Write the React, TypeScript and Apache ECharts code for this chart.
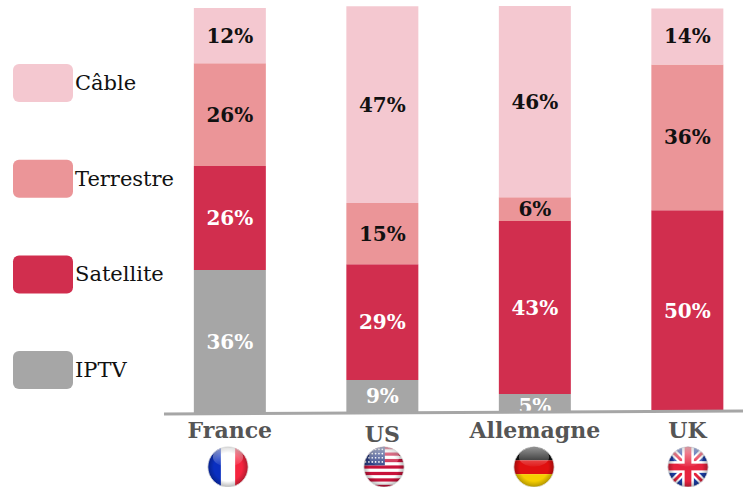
import React, { useEffect, useRef } from "react";
import * as echarts from "echarts";

const categories = ["France", "US", "Allemagne", "UK"];
const seriesNames = ["Câble", "Terrestre", "Satellite", "IPTV"];
// Segment heights as drawn in the picture (they differ slightly from the printed labels)
const baseOffset = [0, 0.25, 0.5, 0.5];
const iptv = [35.3, 7.9, 4.2, 0];
const satellite = [25.7, 28.6, 42.7, 49.6];
const terrestre = [25.4, 15.1, 5.9, 36];
const cable = [13.6, 48.6, 47.2, 13.8];
// Printed labels
const iptvLabels = [36, 9, 5, null];
const satelliteLabels = [26, 29, 43, 50];
const terrestreLabels = [26, 15, 6, 36];
const cableLabels = [12, 47, 46, 14];

const COLORS = { cable: "#F4C8D0", terrestre: "#EB9598", satellite: "#D12E4E", iptv: "#A6A6A6" };
const FONT = "'DejaVu Serif', serif";

const gloss = `<defs><clipPath id="c"><circle cx="50" cy="50" r="48"/></clipPath>
<radialGradient id="s" cx="50%" cy="50%" r="50%"><stop offset="70%" stop-color="#000" stop-opacity="0"/><stop offset="100%" stop-color="#000" stop-opacity=".28"/></radialGradient>
<linearGradient id="g" x1="0" y1="0" x2="0" y2="1"><stop offset="0" stop-color="#fff" stop-opacity=".55"/><stop offset="1" stop-color="#fff" stop-opacity=".05"/></linearGradient></defs>`;
const wrap = (inner: string) =>
  "data:image/svg+xml;charset=utf-8," +
  encodeURIComponent(
    `<svg xmlns="http://www.w3.org/2000/svg" viewBox="0 0 100 100" width="100" height="100">${gloss}<g clip-path="url(#c)">${inner}<circle cx="50" cy="50" r="48" fill="url(#s)"/><ellipse cx="50" cy="26" rx="36" ry="23" fill="url(#g)"/></g><circle cx="50" cy="50" r="48" fill="none" stroke="#ddd" stroke-width="2"/></svg>`
  );
const usStripes = Array.from({ length: 7 }, (_, i) => `<rect x="0" y="${i * 15.4}" width="100" height="7.7" fill="#C8123A"/>`).join("");
const usStars = Array.from({ length: 24 }, (_, i) => `<circle cx="${6 + (i % 6) * 8}" cy="${8 + Math.floor(i / 6) * 10}" r="2" fill="#fff"/>`).join("");
const flags = [
  { x: 228, img: wrap(`<rect width="100" height="100" fill="#fff"/><rect width="33" height="100" fill="#0A2FC0"/><rect x="67" width="33" height="100" fill="#F5243F"/>`) },
  { x: 384, img: wrap(`<rect width="100" height="100" fill="#fff"/>${usStripes}<rect width="52" height="46" fill="#2C3F85"/>${usStars}`) },
  { x: 534, img: wrap(`<rect width="100" height="34" fill="#111"/><rect y="34" width="100" height="33" fill="#E01010"/><rect y="67" width="100" height="33" fill="#F6CE00"/>`) },
  { x: 688, img: wrap(`<rect width="100" height="100" fill="#1B3FA8"/><path d="M0 12L12 0L100 88L88 100ZM88 0L100 12L12 100L0 88Z" fill="#fff"/><path d="M0 5L5 0L100 95L95 100ZM95 0L100 5L5 100L0 95Z" fill="#E6233F"/><rect x="36" width="28" height="100" fill="#fff"/><rect y="36" width="100" height="28" fill="#fff"/><rect x="42" width="16" height="100" fill="#E6233F"/><rect y="42" width="100" height="16" fill="#E6233F"/>`) },
];

const seriesOf = (name: string, data: number[], labels: (number | null)[], color: string, textColor: string) => ({
  name,
  type: "bar",
  stack: "s",
  barWidth: 72,
  data,
  itemStyle: { color },
  label: {
    show: true,
    position: "inside",
    offset: [0, 1],
    color: textColor,
    fontFamily: FONT,
    fontWeight: "bold",
    fontSize: 20,
    formatter: (p: any) => (labels[p.dataIndex] == null ? "" : `${labels[p.dataIndex]}%`),
  },
  labelLayout: (p: any) => (p.rect.height < 20 && name === "IPTV" ? { dy: 4 } : {}),
});

export default function App() {
  const ref = useRef<HTMLDivElement>(null);
  useEffect(() => {
    const chart = echarts.init(ref.current!, null, { renderer: "svg" });
    const axisFont = { fontFamily: FONT, fontWeight: "bold", fontSize: 22, color: "#555" };
    const legendText = { fontFamily: FONT, fontSize: 21, color: "#111" };
    chart.setOption({
      animation: false,
      backgroundColor: "#fff",
      grid: { left: 153.6, top: 0, width: 610, height: 413, outerBoundsMode: "none" },
      legend: {
        orient: "vertical",
        left: 13,
        top: 64,
        padding: 0,
        itemWidth: 60,
        itemHeight: 38,
        itemGap: 57.7,
        icon: "path://M6 0H54A6 6 0 0 1 60 6V32A6 6 0 0 1 54 38H6A6 6 0 0 1 0 32V6A6 6 0 0 1 6 0Z",
        data: seriesNames.map((name) => ({
          name,
          textStyle: { ...legendText, padding: [0, 0, name === "Câble" ? 14 : 8, -3] },
        })),
        textStyle: { ...legendText, padding: [0, 0, 8, -3] },
      },
      xAxis: {
        type: "category",
        data: categories,
        axisLine: { show: false },
        axisTick: { show: false },
        axisLabel: {
          margin: 6,
          interval: 0,
          ...axisFont,
          formatter: (v: string) => (v === "US" ? `{low|${v}}` : v),
          rich: { low: { ...axisFont, padding: [4, 0, 0, 0] } },
        },
      },
      yAxis: { type: "value", min: 0, max: 102, show: false, splitLine: { show: false } },
      series: [
        { name: "base", type: "bar", stack: "s", barWidth: 72, data: baseOffset, itemStyle: { color: "transparent" }, silent: true },
        seriesOf("IPTV", iptv, iptvLabels, COLORS.iptv, "#fff"),
        seriesOf("Satellite", satellite, satelliteLabels, COLORS.satellite, "#fff"),
        seriesOf("Terrestre", terrestre, terrestreLabels, COLORS.terrestre, "#111"),
        seriesOf("Câble", cable, cableLabels, COLORS.cable, "#111"),
      ],
      graphic: [
        {
          type: "line",
          z: 100,
          shape: { x1: 164, y1: 414, x2: 743, y2: 411 },
          style: { stroke: "#A6A6A6", lineWidth: 3 },
        },
        ...flags.map((f) => ({
          type: "image",
          x: f.x - 21,
          y: 446,
          style: { image: f.img, width: 42, height: 42 },
        })),
      ],
    });
    return () => chart.dispose();
  }, []);
  return <div ref={ref} style={{ position: "fixed", left: 0, top: 0, width: 743, height: 487 }} />;
}
